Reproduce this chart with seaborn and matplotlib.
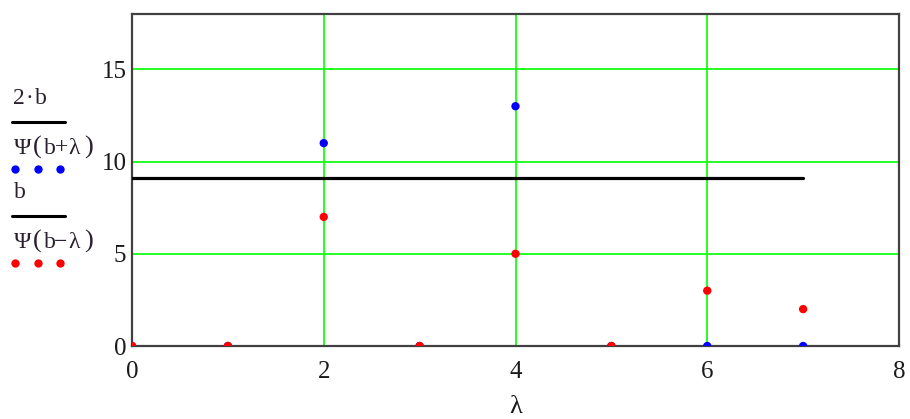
import matplotlib
matplotlib.use("Agg")
import matplotlib.pyplot as plt
from matplotlib.lines import Line2D
import seaborn as sns
import pandas as pd

# Data
lam = [0, 1, 2, 3, 4, 5, 6, 7]
series_plus = [0, 0, 11, 0, 13, 0, 0, 0]    # 2*b / Psi(b+lambda)
series_minus = [0, 0, 7, 0, 5, 0, 3, 2]     # b / Psi(b-lambda)
line_x = [0, 7]
line_y = [9.09, 9.09]
x_ticks = [0, 2, 4, 6, 8]
y_ticks = [0, 5, 10, 15]

sns.set_theme(style="white")
plt.rcParams['font.family'] = ['Liberation Serif', 'DejaVu Serif']

W, H = 910, 419
fig = plt.figure(figsize=(W / 100, H / 100), dpi=100)
ax = fig.add_axes([132 / W, 1 - 346 / H, (899 - 132) / W, (346 - 14) / H])

df_plus = pd.DataFrame({"x": lam, "y": series_plus})
df_minus = pd.DataFrame({"x": lam, "y": series_minus})
df_line = pd.DataFrame({"x": line_x, "y": line_y})

sns.lineplot(data=df_line, x="x", y="y", color="black", lw=2.3, ax=ax, zorder=3)
sns.scatterplot(data=df_plus, x="x", y="y", color="#0000ff", s=36, edgecolor="none", ax=ax, zorder=4)
sns.scatterplot(data=df_minus, x="x", y="y", color="#ff0000", s=36, edgecolor="none", ax=ax, zorder=5)

ax.set_xlim(0, 8)
ax.set_ylim(0, 18)
ax.set_xticks(x_ticks)
ax.set_yticks(y_ticks)
ax.set_xticklabels([str(t) for t in x_ticks])
ax.set_yticklabels([str(t) for t in y_ticks])
ax.grid(True, color="#00ff00", lw=1.2)
ax.set_axisbelow(True)
for sp in ax.spines.values():
    sp.set_color("#404040")
    sp.set_linewidth(1.6)
    sp.set_visible(True)
ax.tick_params(axis="both", length=0, labelsize=18, colors="#1a1a1a")
ax.tick_params(axis="x", pad=11)
ax.tick_params(axis="y", pad=4)
ax.set_xlabel("λ", fontsize=19, labelpad=9, color="#1a1a1a")
ax.set_ylabel("")

# Left-side legend (Mathcad style)
def fx(x):
    return x / W

def fy(y):
    return 1 - y / H

tc = "#2a2030"
fs = 17

def spaced(chars, xs, y, size=fs):
    for c, x in zip(chars, xs):
        fig.text(fx(x), fy(y), c, fontsize=size, color=tc, ha="center", va="center")

spaced(["2", "·", "b"], [19, 29, 41], 98)
fig.add_artist(Line2D([fx(12), fx(65)], [fy(122), fy(122)], color="black", lw=2.2))
spaced(["Ψ", "b", "+", "λ"], [23, 50, 61, 74], 148)
spaced(["(", ")"], [37, 89], 147, size=19)
fig.add_artist(Line2D([fx(15), fx(38), fx(60)], [fy(169)] * 3, color="#0000ff", lw=0,
                      marker="o", markersize=6, markeredgewidth=0))
spaced(["b"], [20], 192)
fig.add_artist(Line2D([fx(12), fx(65)], [fy(216), fy(216)], color="black", lw=2.2))
spaced(["Ψ", "b", "−", "λ"], [23, 50, 61, 74], 242)
spaced(["(", ")"], [37, 89], 241, size=19)
fig.add_artist(Line2D([fx(15), fx(38), fx(60)], [fy(263)] * 3, color="#ff0000", lw=0,
                      marker="o", markersize=6, markeredgewidth=0))

fig.savefig("out.png", dpi=100)
